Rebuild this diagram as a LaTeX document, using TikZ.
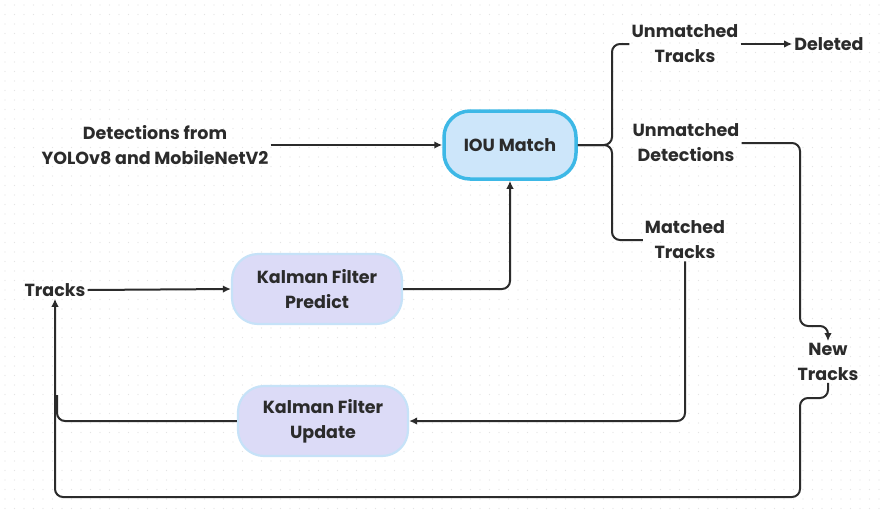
\documentclass[tikz,border=0pt]{standalone}
\usepackage{fontspec}
\setmainfont{Poppins}
\usetikzlibrary{arrows.meta}
\definecolor{ink}{HTML}{2B2B2B}
\definecolor{iouFill}{HTML}{CDE6FA}
\definecolor{iouEdge}{HTML}{3DB8E6}
\definecolor{kfFill}{HTML}{DCDBF7}
\definecolor{kfEdge}{HTML}{C6E2F8}
\definecolor{dotgray}{HTML}{E4E4E4}
\tikzset{
  lbl/.style={font=\bfseries\fontsize{17.5}{25}\selectfont, text=ink, align=center, inner sep=2pt},
  iou/.style={lbl, draw=iouEdge, line width=3.5pt, fill=iouFill, rounded corners=26pt,
              minimum width=132pt, minimum height=68pt},
  kf/.style={lbl, draw=kfEdge, line width=2.2pt, fill=kfFill, rounded corners=26pt,
             minimum width=170pt, minimum height=70pt},
  wire/.style={draw=ink, line width=2pt, rounded corners=8pt},
  arr/.style={wire, -{Latex[length=8pt,width=7.5pt]}}
}
\begin{document}
\begin{tikzpicture}[x=1pt, y=-1pt]
  % canvas and faint dot grid
  \fill[white] (0,0) rectangle (888,512);
  \useasboundingbox (0,0) rectangle (888,512);
  \foreach \gx in {5,14.5,...,888}
    \foreach \gy in {5,14.5,...,512}
      \fill[dotgray] (\gx,\gy) circle (0.7);

  % boxes
  \node[iou] (iou) at (510,145) {IOU Match};
  \node[kf] (kfp) at (317,289) {Kalman Filter\\Predict};
  \node[kf] (kfu) at (323,421) {Kalman Filter\\Update};

  % plain labels
  \node[lbl] (det) at (155,145) {Detections from\\YOLOv8 and MobileNetV2};
  \node[lbl] (trk) at (55,290) {Tracks};
  \node[lbl] (ut)  at (685,44)  {Unmatched\\Tracks};
  \node[lbl] (del) at (829,44)  {Deleted};
  \node[lbl] (ud)  at (686,143) {Unmatched\\Detections};
  \node[lbl] (mt)  at (685,240) {Matched\\Tracks};
  \node[lbl] (nt)  at (828,362) {New\\Tracks};

  % connectors
  \draw[arr] (det.east) -- (iou.west);
  \draw[arr] (trk.east) -- (kfp.west);
  \draw[arr] (kfp.east) -| (iou.south);

  % brace splitting the match result
  \draw[wire] (ut.west) -| (612,145) -- (iou.east);
  \draw[wire] (mt.west) -| (612,145) -- (iou.east);

  \draw[arr] (ut.east) -- (del.west);
  \draw[arr] (ud.east) -- (800,143) -- (800,326) -- (828,326) -- (nt.north);
  \draw[arr] (mt.south) |- (kfu.east);
  \draw[wire] (kfu.west) -| (57,395);
  \draw[arr] (nt.south) |- (800,398) -- (800,497) -| (trk.south);
\end{tikzpicture}
\end{document}
